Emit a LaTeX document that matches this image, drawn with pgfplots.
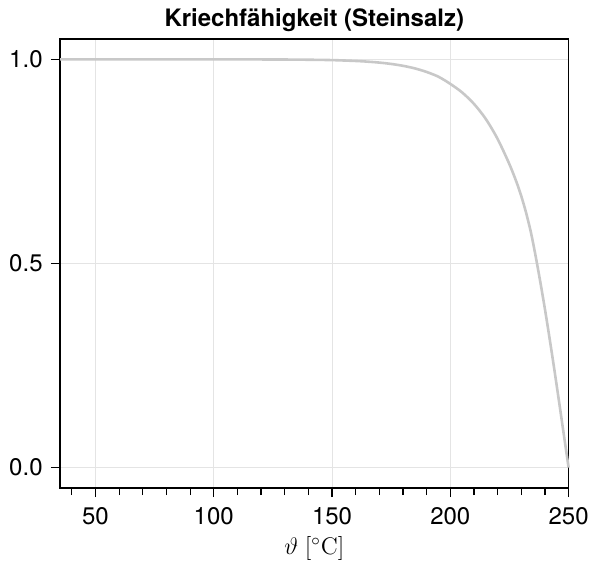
\documentclass[border=0pt]{standalone}
\usepackage[no-math]{fontspec}
\setmainfont{TeX Gyre Heros}
\usepackage{pgfplots}
\pgfplotsset{compat=1.18}

\definecolor{curvegray}{RGB}{200,200,200}
\definecolor{gridgray}{RGB}{228,228,228}

\begin{document}
\begin{tikzpicture}
\begin{axis}[
  scale only axis,
  width=254.3pt, height=224.5pt,
  xmin=35, xmax=250,
  ymin=-0.05, ymax=1.05,
  axis line style={black, line width=0.7pt},
  xtick={50,100,150,200,250},
  xticklabels={50,100,150,200,250},
  minor xtick={40,60,70,80,90,110,120,130,140,160,170,180,190,210,220,230,240},
  ytick={0,0.5,1},
  yticklabels={0.0,0.5,1.0},
  xtick pos=bottom, ytick pos=left,
  tick align=outside,
  major tick length=4.5pt,
  minor tick length=3.5pt,
  every tick/.style={black, line width=0.6pt},
  grid=major,
  major grid style={gridgray, line width=0.5pt},
  xticklabel style={anchor=north, inner sep=0pt, yshift=-5pt},
  yticklabel style={anchor=east, inner sep=0pt, xshift=-4pt},
  every tick label/.append style={font=\fontsize{12}{14}\selectfont},
  every axis title shift=0pt,
  title={Kriechfähigkeit (Steinsalz)},
  title style={at={(0.5,1)}, anchor=south, inner sep=0pt, yshift=3.5pt,
    font=\fontsize{12}{14}\selectfont\bfseries},
  xlabel={$\vartheta\ [^\circ\mathrm{C}]$},
  xlabel style={at={(0.5,0)}, anchor=north, inner sep=0pt, yshift=-24pt,
    font=\fontsize{12}{14}\selectfont},
  clip=false,
]
\coordinate (fsw) at (rel axis cs:0,0);
\coordinate (fne) at (rel axis cs:1,1);
\addplot[curvegray, line width=1.3pt, smooth] coordinates {
  (35,1.0000) (60,1.0000) (80,1.0000) (100,1.0000) (110,0.9999)
  (120,0.9999) (130,0.9997) (140,0.9992) (150,0.9983) (160,0.9962)
  (165,0.9945) (170,0.9922) (175,0.9889) (180,0.9843) (185,0.9780)
  (190,0.9692) (195,0.9575) (200,0.9400) (205,0.9190) (210,0.8910)
  (215,0.8540) (220,0.8050) (225,0.7430) (228,0.6990) (230,0.6650)
  (232,0.6250) (234,0.5780) (236,0.5200) (238,0.4560) (240,0.3880)
  (242,0.3150) (244,0.2390) (246,0.1600) (248,0.0800) (250,0.0000)
};
\end{axis}
\pgfresetboundingbox
\path[use as bounding box] ([xshift=-30pt,yshift=-40pt]fsw) rectangle ([xshift=12.7pt,yshift=19.5pt]fne);
\end{tikzpicture}
\end{document}
